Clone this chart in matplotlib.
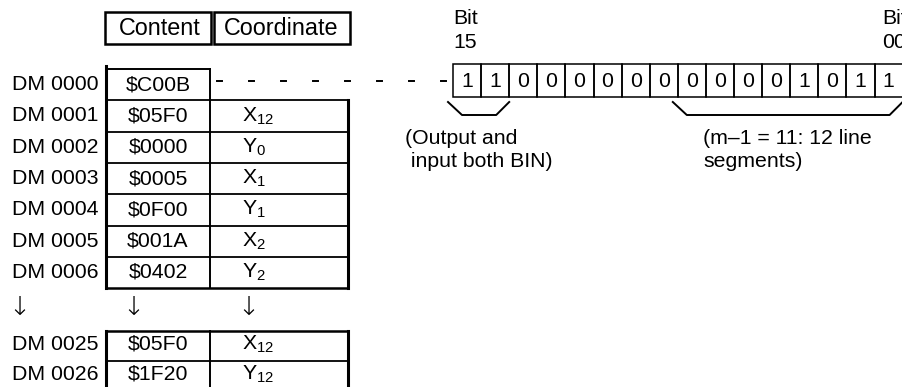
import matplotlib.pyplot as plt
from matplotlib.patches import Rectangle

plt.rcParams['font.family'] = ['Liberation Sans', 'DejaVu Sans']
plt.rcParams['mathtext.default'] = 'regular'

# table data
dm_top = ['DM 0000', 'DM 0001', 'DM 0002', 'DM 0003', 'DM 0004', 'DM 0005', 'DM 0006']
content_top = ['$C00B', '$05F0', '$0000', '$0005', '$0F00', '$001A', '$0402']
coord_top = ['', 'X$_{12}$', 'Y$_0$', 'X$_1$', 'Y$_1$', 'X$_2$', 'Y$_2$']
dm_bot = ['DM 0025', 'DM 0026']
content_bot = ['$05F0', '$1F20']
coord_bot = ['X$_{12}$', 'Y$_{12}$']
# bits 15 .. 00 of $C00B
bits = [1, 1, 0, 0, 0, 0, 0, 0, 0, 0, 0, 0, 1, 0, 1, 1]

fs = 15.3
fig = plt.figure(figsize=(9.02, 3.87), dpi=100)
ax = fig.add_axes([0, 0, 1, 1])
ax.set_xlim(0, 902)
ax.set_ylim(387, 0)
ax.axis('off')

x0, x1, x2 = 106, 210, 348
lab_x = 12
rh = 31.3
top = 69

# header
ax.add_patch(Rectangle((105, 12), 106, 32, fill=False, lw=1.8, ec='black'))
ax.add_patch(Rectangle((214, 12), 136, 32, fill=False, lw=1.8, ec='black'))
ax.text(160, 28.5, 'Content', ha='center', va='center', fontsize=16.8)
ax.text(281, 28.5, 'Coordinate', ha='center', va='center', fontsize=16.8)

# upper block
n = len(dm_top)
bottom = top + n * rh
ax.plot([x0, x0], [top - 3, bottom], color='black', lw=2.2)
ax.plot([x0, x1], [top, top], color='black', lw=1.4)
ax.plot([x1, x1], [top, bottom], color='black', lw=1.4)
ax.plot([x2, x2], [top + rh, bottom], color='black', lw=2.2)
ax.plot([x0, x2], [bottom, bottom], color='black', lw=1.8)
for i in range(1, n):
    ax.plot([x0, x2], [top + i * rh, top + i * rh], color='black', lw=1.3)
for i in range(n):
    yc = top + (i + 0.5) * rh
    ax.text(lab_x, yc, dm_top[i], ha='left', va='center', fontsize=fs)
    ax.text(158, yc, content_top[i], ha='center', va='center', fontsize=fs, parse_math=False)
    if coord_top[i]:
        ax.text(242, yc, coord_top[i], ha='left', va='center', fontsize=fs)

# continuation arrows
ay = 307
arrow_font = dict(ha='center', va='center', fontsize=19, family=['DejaVu Sans'], fontweight='light')
ax.text(19, ay, '↓', **arrow_font)
ax.text(133, ay, '↓', **arrow_font)
ax.text(248, ay, '↓', **arrow_font)

# lower block
top2 = 331
rh2 = 30
bottom2 = top2 + len(dm_bot) * rh2
ax.plot([x0, x2], [top2, top2], color='black', lw=1.8)
ax.plot([x0, x0], [top2, bottom2], color='black', lw=2.2)
ax.plot([x1, x1], [top2, bottom2], color='black', lw=1.4)
ax.plot([x2, x2], [top2, bottom2], color='black', lw=2.2)
for i in range(1, len(dm_bot)):
    ax.plot([x0, x2], [top2 + i * rh2, top2 + i * rh2], color='black', lw=1.3)
for i in range(len(dm_bot)):
    yc = top2 + (i + 0.5) * rh2 - 2
    ax.text(lab_x, yc, dm_bot[i], ha='left', va='center', fontsize=fs)
    ax.text(158, yc, content_bot[i], ha='center', va='center', fontsize=fs, parse_math=False)
    ax.text(242, yc, coord_bot[i], ha='left', va='center', fontsize=fs)

# dashed leader from DM 0000 to bit row
dy = 81
for dx in range(217, 445, 32):
    ax.plot([dx, dx + 5], [dy, dy], color='black', lw=1.4)

# bit boxes
bx = 453
bw = 28.1
by, bh = 64, 33
for i, b in enumerate(bits):
    ax.add_patch(Rectangle((bx + i * bw, by), bw, bh, fill=False, lw=1.1, ec='black'))
    ax.text(bx + (i + 0.5) * bw, by + bh / 2 + 1, str(b), ha='center', va='center', fontsize=fs)

ax.text(453, 19, 'Bit', ha='left', va='center', fontsize=fs)
ax.text(453, 43, '15', ha='left', va='center', fontsize=fs)
# the reference crops the "Bit 00" label at the right edge
ax.text(882, 19, 'Bit', ha='left', va='center', fontsize=fs, clip_on=False)
ax.text(882, 43, '00', ha='left', va='center', fontsize=fs, clip_on=False)

# braces under bit groups
def brace(xa, xb):
    ax.plot([xa - 5, xa + 9, xb - 13, xb], [102, 115, 115, 102], color='black', lw=1.4)

brace(bx, bx + 2 * bw)
brace(bx + 8 * bw, bx + 16 * bw)

ax.text(405, 150, '(Output and\n input both BIN)', ha='left', va='center', fontsize=fs, linespacing=1.3)
ax.text(703, 150, '(m\u20131 = 11: 12 line\nsegments)', ha='left', va='center', fontsize=fs, linespacing=1.3)

fig.savefig('out.png', dpi=100)
